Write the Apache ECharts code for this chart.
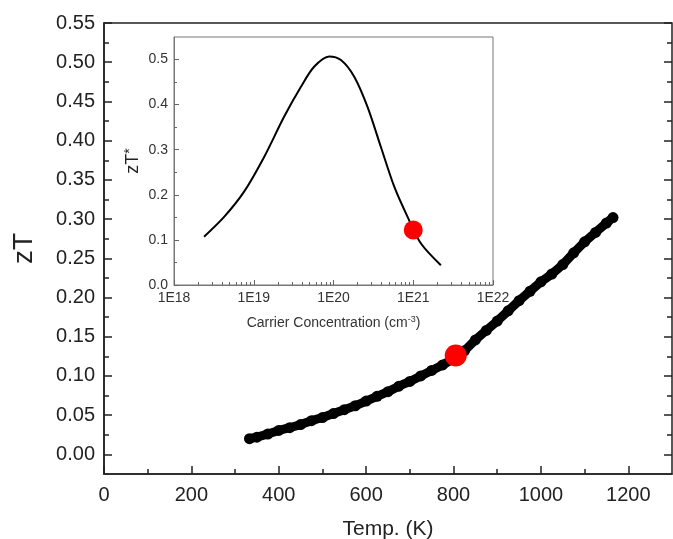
<!DOCTYPE html>
<html>
<head>
<meta charset="utf-8">
<script src="https://cdn.jsdelivr.net/npm/echarts@6/dist/echarts.min.js"></script>
<style>
  html, body { margin: 0; padding: 0; background: #fff; }
  #chart { width: 673px; height: 539px; }
</style>
</head>
<body>
<div id="chart"></div>
<script>
// main plot: zT vs temperature
const tempK = [333, 350, 375, 400, 425, 450, 475, 500, 525, 550, 575, 600, 625, 650, 675,
  700, 725, 750, 775, 800, 825, 850, 875, 900, 925, 950, 975, 1000, 1025, 1050, 1075,
  1100, 1125, 1150, 1165]
const zTMain = [0.020, 0.022, 0.026, 0.0305, 0.034, 0.038, 0.043, 0.047, 0.052, 0.057, 0.062,
  0.068, 0.074, 0.080, 0.087, 0.093, 0.100, 0.107, 0.114, 0.122, 0.132, 0.146, 0.158,
  0.170, 0.183, 0.196, 0.208, 0.220, 0.230, 0.242, 0.257, 0.271, 0.283, 0.295, 0.302]
const mainMark = [805, 0.126]

// inset: zT* vs carrier concentration (cm^-3)
const carrier = [2.38e18, 4.25e18, 7.57e18, 1.35e19, 2.40e19, 3.89e19, 5.71e19, 8.83e19,
  1.24e20, 1.82e20, 2.67e20, 3.93e20, 5.78e20, 8.49e20, 1.25e21, 2.22e21]
const zTStar = [0.107, 0.151, 0.207, 0.284, 0.373, 0.439, 0.484, 0.507,
  0.499, 0.462, 0.395, 0.306, 0.218, 0.151, 0.092, 0.044]
const insetMark = [1.0e21, 0.122]

// tick labels
const mainXMajor = [0, 200, 400, 600, 800, 1000, 1200]
const mainXMinor = [100, 300, 500, 700, 900, 1100]
const mainYMajor = [0, 0.05, 0.10, 0.15, 0.20, 0.25, 0.30, 0.35, 0.40, 0.45, 0.50, 0.55]
const mainYMinor = [0.025, 0.075, 0.125, 0.175, 0.225, 0.275, 0.325, 0.375, 0.425, 0.475, 0.525]
const insetYMajor = [0, 0.1, 0.2, 0.3, 0.4, 0.5]
const insetYMinor = [0.05, 0.15, 0.25, 0.35, 0.45]

const FONT = 'Liberation Sans, Arial, sans-serif'

// log minor ticks 2..9 of each decade, as exponents
const logMinor = []
for (let d = 18; d < 22; d++) {
  for (let k = 2; k <= 9; k++) logMinor.push(d + Math.log10(k))
}

function tickAxis(extra) {
  // overlay axis that only draws ticks
  return Object.assign({
    type: 'value',
    axisLine: { show: false, onZero: false },
    axisLabel: { show: false },
    splitLine: { show: false }
  }, extra)
}

const chart = echarts.init(document.getElementById('chart'))

const options = {
  animation: false,
  backgroundColor: '#fff',
  textStyle: { fontFamily: FONT },
  grid: [
    {
      left: 104, top: 23, right: 1, bottom: 65, outerBoundsMode: 'none',
      show: true, borderColor: '#222', borderWidth: 1.5
    },
    {
      left: 174, top: 37, width: 319, height: 248, outerBoundsMode: 'none',
      show: true, borderColor: '#777', borderWidth: 1, backgroundColor: '#fff'
    }
  ],
  xAxis: [
    {
      type: 'value', gridIndex: 0, min: 0, max: 1300, position: 'bottom',
      name: 'Temp. (K)', nameLocation: 'middle', nameGap: 45,
      nameTextStyle: { fontSize: 21, color: '#222', fontFamily: FONT },
      axisLine: { onZero: false, lineStyle: { color: '#222', width: 1.5 } },
      axisTick: { inside: true, length: 8, customValues: mainXMajor, lineStyle: { color: '#222', width: 1.5 } },
      axisLabel: {
        customValues: mainXMajor, fontSize: 20, color: '#222', margin: 11, fontFamily: FONT,
        formatter: v => String(v)
      },
      splitLine: { show: false }
    },
    tickAxis({
      gridIndex: 0, min: 0, max: 1300, position: 'bottom',
      axisTick: { inside: true, length: 5, customValues: mainXMinor, lineStyle: { color: '#222', width: 1.5 } }
    }),
    {
      type: 'log', gridIndex: 1, min: 1e18, max: 1e22, logBase: 10, position: 'bottom',
      name: '{t|Carrier Concentration (cm}{s|-3}{t|)}', nameLocation: 'middle', nameGap: 30,
      nameTextStyle: {
        rich: {
          t: { fontSize: 14, color: '#333', fontFamily: FONT },
          s: { fontSize: 9, color: '#333', fontFamily: FONT, verticalAlign: 'top', padding: [0, 0, 8, 0] }
        }
      },
      axisLine: { onZero: false, lineStyle: { color: '#777', width: 1 } },
      axisTick: { inside: true, length: 5, lineStyle: { color: '#666' } },
      axisLabel: {
        fontSize: 14, color: '#333', margin: 6, fontFamily: FONT,
        formatter: v => '1E' + Math.round(Math.log10(v))
      },
      splitLine: { show: false }
    },
    tickAxis({
      gridIndex: 1, min: 18, max: 22, position: 'bottom',
      axisTick: { inside: true, length: 3, customValues: logMinor, lineStyle: { color: '#666' } }
    })
  ],
  yAxis: [
    {
      type: 'value', gridIndex: 0, min: -0.025, max: 0.55, position: 'left',
      name: 'zT', nameLocation: 'middle', nameGap: 66, nameRotate: 90,
      nameTextStyle: { fontSize: 28, color: '#222', fontFamily: FONT },
      axisLine: { onZero: false, lineStyle: { color: '#222', width: 1.5 } },
      axisTick: { inside: true, length: 8, customValues: mainYMajor, lineStyle: { color: '#222', width: 1.5 } },
      axisLabel: {
        customValues: mainYMajor, fontSize: 20, color: '#222', margin: 9, fontFamily: FONT,
        formatter: v => v.toFixed(2)
      },
      splitLine: { show: false }
    },
    tickAxis({
      gridIndex: 0, min: -0.025, max: 0.55, position: 'left',
      axisTick: { inside: true, length: 5, customValues: mainYMinor, lineStyle: { color: '#222', width: 1.5 } }
    }),
    tickAxis({
      gridIndex: 0, min: -0.025, max: 0.55, position: 'right',
      axisTick: { inside: true, length: 8, customValues: mainYMajor, lineStyle: { color: '#222', width: 1.5 } }
    }),
    tickAxis({
      gridIndex: 0, min: -0.025, max: 0.55, position: 'right',
      axisTick: { inside: true, length: 5, customValues: mainYMinor, lineStyle: { color: '#222', width: 1.5 } }
    }),
    {
      type: 'value', gridIndex: 1, min: 0, max: 0.55, position: 'left',
      name: '{a|zT}{s|*}', nameLocation: 'middle', nameGap: 31, nameRotate: 90,
      nameTextStyle: {
        rich: {
          a: { fontSize: 18, color: '#222', fontFamily: FONT },
          s: { fontSize: 14, color: '#222', fontFamily: FONT, verticalAlign: 'top', padding: [0, 0, 6, 0] }
        }
      },
      axisLine: { onZero: false, lineStyle: { color: '#777', width: 1 } },
      axisTick: { inside: true, length: 5, customValues: insetYMajor, lineStyle: { color: '#666' } },
      axisLabel: {
        customValues: insetYMajor, fontSize: 14, color: '#333', margin: 6, fontFamily: FONT,
        formatter: v => v.toFixed(1)
      },
      splitLine: { show: false }
    },
    tickAxis({
      gridIndex: 1, min: 0, max: 0.55, position: 'left',
      axisTick: { inside: true, length: 3, customValues: insetYMinor, lineStyle: { color: '#666' } }
    })
  ],
  series: [
    {
      type: 'line', xAxisIndex: 0, yAxisIndex: 0,
      data: tempK.map((t, i) => [t, zTMain[i]]),
      symbol: 'circle', symbolSize: 11,
      itemStyle: { color: '#000' },
      lineStyle: { color: '#000', width: 9, cap: 'round', join: 'round' },
      z: 3
    },
    {
      type: 'scatter', xAxisIndex: 0, yAxisIndex: 0,
      data: [mainMark], symbolSize: 22,
      itemStyle: { color: '#ff0000', opacity: 1 }, z: 4
    },
    {
      type: 'line', xAxisIndex: 2, yAxisIndex: 4,
      data: carrier.map((c, i) => [c, zTStar[i]]),
      smooth: 0.3, showSymbol: false,
      lineStyle: { color: '#000', width: 2 },
      z: 5
    },
    {
      type: 'scatter', xAxisIndex: 2, yAxisIndex: 4,
      data: [insetMark], symbolSize: 19,
      itemStyle: { color: '#ff0000', opacity: 1 }, z: 6
    }
  ]
}

chart.setOption(options)
</script>
</body>
</html>
